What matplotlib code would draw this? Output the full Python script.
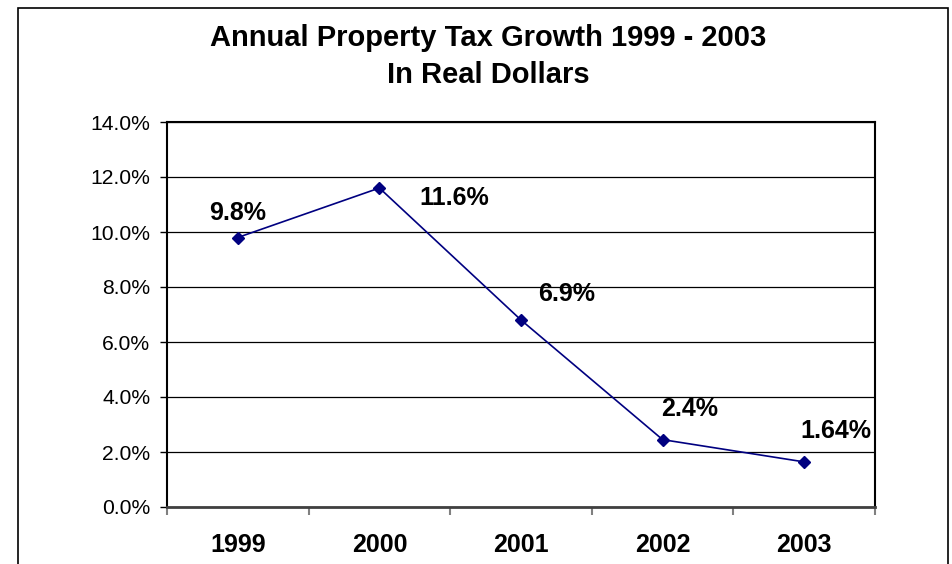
import matplotlib
matplotlib.use("Agg")
import matplotlib.pyplot as plt
from matplotlib.patches import Rectangle
from matplotlib.ticker import FuncFormatter

plt.rcParams["font.family"] = ["Liberation Sans", "DejaVu Sans"]

# data
years = ["1999", "2000", "2001", "2002", "2003"]
growth = [9.8, 11.6, 6.8, 2.45, 1.64]
point_labels = ["9.8%", "11.6%", "6.9%", "2.4%", "1.64%"]
y_ticks = [0, 2, 4, 6, 8, 10, 12, 14]

# label offsets in pixels (dx, dy) relative to each point
label_offsets = [(0, 25), (75, -10), (46, 26), (27, 31), (32, 31)]

fig = plt.figure(figsize=(9.52, 5.64), dpi=100)

# outer chart border
fig.patches.append(Rectangle((18 / 952, -0.02), (948 - 18) / 952, 1.02 - 8 / 564,
                             transform=fig.transFigure, fill=False,
                             edgecolor="black", linewidth=1.2))

ax = fig.add_axes([167 / 952, 1 - 507 / 564, (875 - 167) / 952, (507 - 122) / 564])

x = list(range(len(years)))
ax.plot(x, growth, color="#000080", linewidth=1.2, marker="D",
        markersize=6.5, markerfacecolor="#000080", markeredgecolor="#000080",
        zorder=3)

for xi, yi, lab, (dx, dy) in zip(x, growth, point_labels, label_offsets):
    ax.annotate(lab, (xi, yi), xytext=(dx, dy), textcoords="offset pixels",
                ha="center", va="center", fontsize=18, fontweight="bold")

ax.set_xlim(-0.5, len(years) - 0.5)
ax.set_ylim(0, 14)
ax.set_yticks(y_ticks)
ax.yaxis.set_major_formatter(FuncFormatter(lambda v, p: f"{v:.1f}%"))
ax.grid(axis="y", color="black", linewidth=0.9)
ax.set_axisbelow(True)

ax.set_xticks(x)
ax.set_xticklabels(years, fontsize=18, fontweight="bold")
ax.set_xticks([i - 0.5 for i in range(len(years) + 1)], minor=True)
ax.tick_params(axis="x", which="major", length=0, pad=19)
ax.tick_params(axis="x", which="minor", length=6, width=1.5, color="#808080")
ax.tick_params(axis="y", length=5, width=1, pad=7, labelsize=15.2)

for side in ["left", "right", "top"]:
    ax.spines[side].set_color("black")
    ax.spines[side].set_linewidth(1.5)
ax.spines["bottom"].set_color("#404040")
ax.spines["bottom"].set_linewidth(2)

fig.text(488 / 952, 1 - 38 / 564, "Annual Property Tax Growth 1999 - 2003",
         ha="center", va="center", fontsize=21, fontweight="bold")
fig.text(488 / 952, 1 - 75 / 564, "In Real Dollars",
         ha="center", va="center", fontsize=21, fontweight="bold")

fig.savefig("out.png", dpi=100)
